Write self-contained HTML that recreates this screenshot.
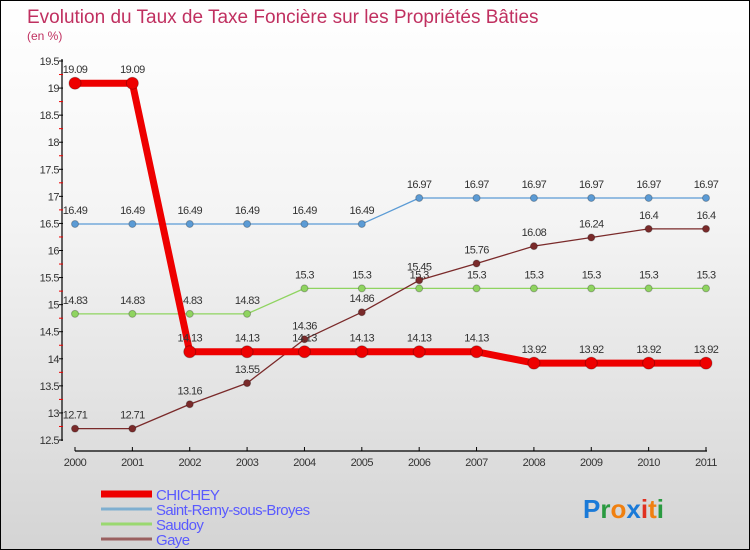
<!DOCTYPE html>
<html><head><meta charset="utf-8"><style>
body{margin:0}
#wrap{position:relative;width:748px;height:548px;border:1px solid #000;background:linear-gradient(#fff 0%,#f4f4f4 40%,#d4d4d4 100%);font-family:"Liberation Sans",sans-serif;overflow:hidden}
</style></head><body>
<div id="wrap">
<svg id="svg" width="748" height="548" style="position:absolute;left:0;top:0"></svg>
</div>
<script>
const years=["2000","2001","2002","2003","2004","2005","2006","2007","2008","2009","2010","2011"];
const chichey=[19.09,19.09,14.13,14.13,14.13,14.13,14.13,14.13,13.92,13.92,13.92,13.92];
const saintRemy=[16.49,16.49,16.49,16.49,16.49,16.49,16.97,16.97,16.97,16.97,16.97,16.97];
const saudoy=[14.83,14.83,14.83,14.83,15.3,15.3,15.3,15.3,15.3,15.3,15.3,15.3];
const gaye=[12.71,12.71,13.16,13.55,14.36,14.86,15.45,15.76,16.08,16.24,16.4,16.4];
const yTicks=[12.5,13,13.5,14,14.5,15,15.5,16,16.5,17,17.5,18,18.5,19,19.5];
const NS="http://www.w3.org/2000/svg";
const svg=document.getElementById('svg');
const X=i=>74+i*(705-74)/11;
const Y=v=>439-(v-12.5)*(439-60)/7;
function el(t,a,p){const e=document.createElementNS(NS,t);for(const k in a)e.setAttribute(k,a[k]);(p||svg).appendChild(e);return e;}
function tx(x,y,s,a,p){const e=el('text',Object.assign({x:x,y:y},a),p);e.textContent=s;return e;}
// title
let t=tx(26,22,"Evolution du Taux de Taxe Foncière sur les Propriétés Bâties",{fill:"#c03060","font-size":"19"});


t=tx(26,39,"(en %)",{fill:"#c03060","font-size":"12"});


// axes
const ax=el('g',{});


el('line',{x1:61,y1:58,x2:61,y2:440,stroke:"#000","stroke-width":1.2},ax);
el('line',{x1:74,y1:450,x2:706,y2:450,stroke:"#000","stroke-width":1.2},ax);
yTicks.forEach((v,i)=>{
  el('line',{x1:58,x2:62,y1:Y(v),y2:Y(v),stroke:"#000"},ax);
  if(i<yTicks.length-1) el('line',{x1:58,x2:62,y1:(Y(v)+Y(yTicks[i+1]))/2,y2:(Y(v)+Y(yTicks[i+1]))/2,stroke:"#e00"},ax);
  const l=tx(58,Y(v)+4,String(v),{"text-anchor":"end","font-size":"11",fill:"#333","letter-spacing":"-0.5"},ax);
  
  
});
years.forEach((y,i)=>{
  el('line',{x1:X(i),x2:X(i),y1:446,y2:450,stroke:"#000"},ax);
  const l=tx(X(i),465,y,{"text-anchor":"middle","font-size":"11",fill:"#333","letter-spacing":"-0.5"},ax);
  
  
});
function series(vals,color,w,r,name,labelColor){
  const g=el('g',{});
  
  
  el('polyline',{points:vals.map((v,i)=>X(i)+","+Y(v)).join(" "),fill:"none",stroke:color,"stroke-width":w,"stroke-linejoin":"round"},g);
  vals.forEach((v,i)=>{
    const c=el('circle',{cx:X(i),cy:Y(v),r:r,fill:color,stroke:"rgba(0,0,0,0.25)"},g);
    
    
    const l=tx(X(i),Y(v)-10,String(v),{"text-anchor":"middle","font-size":"11",fill:"#333","letter-spacing":"-0.6"},g);
    
    
  });
}
series(saintRemy,"#5b9bd5",1.3,3.5,"saint-remy");
series(saudoy,"#8fd460",1.3,3.5,"saudoy");
series(gaye,"#7a2a2a",1.3,3.5,"gaye");
series(chichey,"#ee0000",7,6,"chichey");
// legend
const items=[["CHICHEY","#ee0000",7],["Saint-Remy-sous-Broyes","#7fafd0",3],["Saudoy","#9ad870",3],["Gaye","#9a6060",3]];
items.forEach((it,i)=>{
  const g=el('g',{});
  
  
  const y=493+i*15;
  el('line',{x1:100,x2:151,y1:y,y2:y,stroke:it[1],"stroke-width":it[2]},g);
  tx(155,y+6,it[0],{fill:"#5a5aff","font-size":"15","letter-spacing":"-0.6"},g);
});
// logo
const lg=el('text',{x:582,y:517,"font-size":"26","font-weight":"bold"});


[["P","#1a7ad8"],["r","#2a9a40"],["o","#f08010"],["x","#1a7ad8"],["i","#e03020"],["t","#f08010"],["i","#2a9a40"]].forEach(c=>{const s=el('tspan',{fill:c[1]},lg);s.textContent=c[0];});
</script>
</body></html>
